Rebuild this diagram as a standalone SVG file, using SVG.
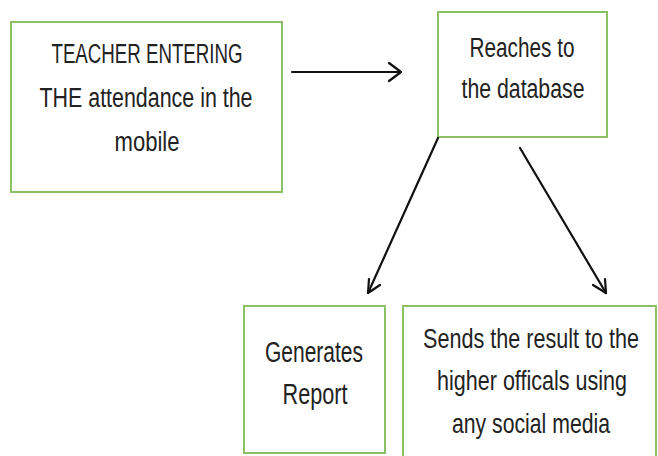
<svg xmlns="http://www.w3.org/2000/svg" width="658" height="456" viewBox="0 0 658 456">
<style>
.box{fill:#fff;stroke:#8cc065;stroke-width:2}
.t{font-family:"Liberation Sans",Arial,sans-serif;font-size:27px;fill:#222;text-anchor:middle}
.big{font-size:30px}
.s{font-size:23.5px}
.c{stroke:#111;stroke-width:2.2;fill:none;stroke-linecap:round}
.h{stroke:#111;stroke-width:2.2;fill:none;stroke-linecap:round;stroke-linejoin:round}
</style>
<rect width="658" height="456" fill="#fff"/>
<g id="node-teacher">
<rect class="box" x="11" y="22" width="271" height="170"/>
<text class="t" x="147" y="63" textLength="191" lengthAdjust="spacingAndGlyphs">TEACHER ENTERING</text>
<text class="t" x="146" y="107" textLength="213" lengthAdjust="spacingAndGlyphs">THE attendance in the</text>
<text class="t" x="147" y="151" textLength="65" lengthAdjust="spacingAndGlyphs">mobile</text>
</g>
<g id="node-database">
<rect class="box" x="438" y="12" width="169" height="125"/>
<text class="t" x="522" y="57" textLength="105" lengthAdjust="spacingAndGlyphs">Reaches to</text>
<text class="t" x="523" y="98" textLength="123" lengthAdjust="spacingAndGlyphs">the database</text>
</g>
<g id="node-report">
<rect class="box" x="244" y="306" width="141" height="147"/>
<text class="t big" x="314" y="362" textLength="98" lengthAdjust="spacingAndGlyphs">Generates</text>
<text class="t big" x="315" y="404" textLength="65" lengthAdjust="spacingAndGlyphs">Report</text>
</g>
<g id="node-sends">
<rect class="box" x="403" y="306" width="253" height="160"/>
<text class="t s" transform="translate(531,348) scale(1,1.15)" x="0" y="0" textLength="216" lengthAdjust="spacingAndGlyphs">Sends the result to the</text>
<text class="t s" transform="translate(532,390) scale(1,1.15)" x="0" y="0" textLength="190" lengthAdjust="spacingAndGlyphs">higher officals using</text>
<text class="t s" transform="translate(531,433) scale(1,1.15)" x="0" y="0" textLength="158" lengthAdjust="spacingAndGlyphs">any social media</text>
</g>
<g id="connectors">
<line class="c" x1="292" y1="72" x2="401" y2="72"/>
<polyline class="h" points="389,63 401,72 389,81"/>
<line class="c" x1="438" y1="138" x2="368" y2="293"/>
<polyline class="h" points="369,279 368,293 380,285"/>
<line class="c" x1="520" y1="148" x2="606" y2="293"/>
<polyline class="h" points="593,285 606,293 605,279"/>
</g>
</svg>
